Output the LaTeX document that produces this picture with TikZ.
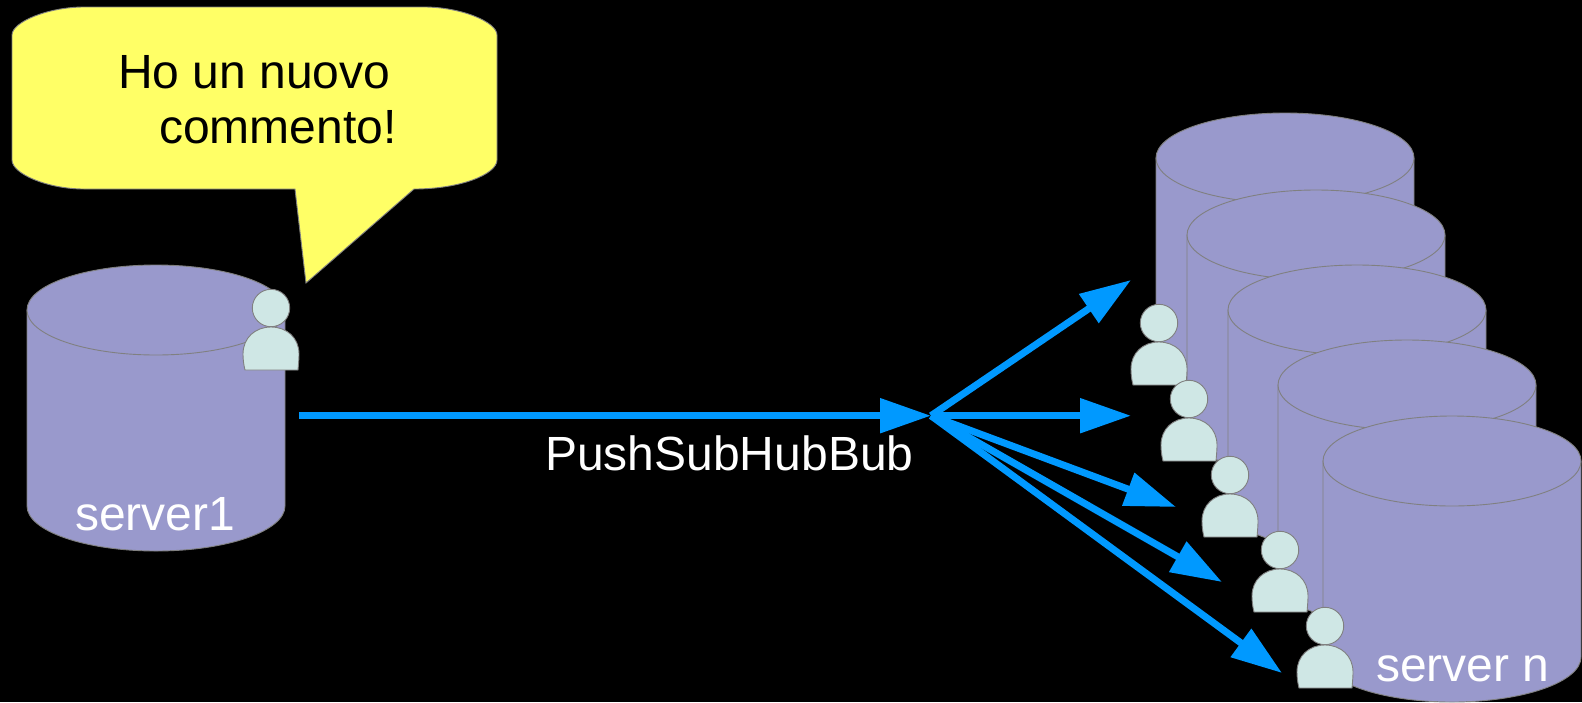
\documentclass[tikz,border=0pt]{standalone}
\usepackage{fontspec}
\setmainfont{Liberation Sans}
\usetikzlibrary{arrows.meta}
\definecolor{dbfill}{HTML}{9999CC}
\definecolor{edgegray}{HTML}{808080}
\definecolor{callout}{HTML}{FFFF66}
\definecolor{personfill}{HTML}{CFE7E5}
\definecolor{arrowblue}{HTML}{0099FF}
\tikzset{
  outline/.style={draw=edgegray,line width=0.9pt},
  lab/.style={inner sep=0pt,font=\fontsize{48}{55}\selectfont},
  push/.style={draw=arrowblue,line width=7pt,-{Triangle[length=51pt,width=33.5pt]}},
  db/.pic={
    \path[fill=dbfill,outline] (-129,0) -- (-129,196) .. controls (-129,221) and (-71,241) .. (0,241)
      .. controls (71,241) and (129,221) .. (129,196) -- (129,0) -- cycle;
    \path[fill=dbfill,outline] (-129,0) .. controls (-129,-25) and (-71,-45) .. (0,-45)
      .. controls (71,-45) and (129,-25) .. (129,0) .. controls (129,25) and (71,45) .. (0,45)
      .. controls (-71,45) and (-129,25) .. (-129,0) -- cycle;
  },
  person/.pic={
    \path[fill=personfill,outline] (0,0) circle[radius=18.7pt];
    \path[fill=personfill,outline] (-26,62) .. controls (-27.5,56) and (-28,51) .. (-28,46)
      .. controls (-28,30) and (-16,19) .. (0,19) .. controls (16,19) and (28,30) .. (28,46)
      .. controls (28,51) and (27.5,56) .. (27,62) -- cycle;
  }
}
\begin{document}
\begin{tikzpicture}[x=1pt,y=-1pt]
\useasboundingbox (0,0) rectangle (1582,702);
\fill[black] (0,0) rectangle (1582,702);
% speech bubble
\path[fill=callout,outline] (12,35) .. controls (12,22) and (48,7) .. (84,7) -- (424,7)
  .. controls (461,7) and (497,22) .. (497,35) -- (497,160)
  .. controls (497,174) and (461,189) .. (414,189) -- (306,283) -- (295,189) -- (84,189)
  .. controls (48,189) and (12,174) .. (12,160) -- cycle;
\node[lab,anchor=base west,align=left,text=black] (speech) at (118,143) {Ho un nuovo\\[0pt]\hspace*{41pt}commento!};
% servers
\pic at (156,310) {db};
\pic at (1285,158) {db};
\pic at (1316,235) {db};
\pic at (1357,310) {db};
\pic at (1407,385) {db};
\pic at (1452,461) {db};
% people
\pic at (271,308) {person};
\pic at (1159,323) {person};
\pic at (1189,399) {person};
\pic at (1230,475) {person};
\pic at (1280,550) {person};
\pic at (1325,626) {person};
% labels
\node[lab,anchor=base west,text=white] (srv1) at (75,530) {server1};
\node[lab,anchor=base west,text=white] (srvn) at (1376,681) {server n};
\node[lab,anchor=base west,text=white] (psh) at (545,470) {PushSubHubBub};
% arrows
\coordinate (src) at (299,415.7);
\coordinate (hub) at (931,415.7);
\coordinate (t1) at (1131,280);
\coordinate (t2) at (1131,415.7);
\coordinate (t3) at (1176,507);
\coordinate (t4) at (1222,582);
\coordinate (t5) at (1282,673);
\draw[push] (src) -- (hub);
\draw[push] (hub) -- (t1);
\draw[push] (hub) -- (t2);
\draw[push] (hub) -- (t3);
\draw[push] (hub) -- (t4);
\draw[push] (hub) -- (t5);
\end{tikzpicture}
\end{document}
